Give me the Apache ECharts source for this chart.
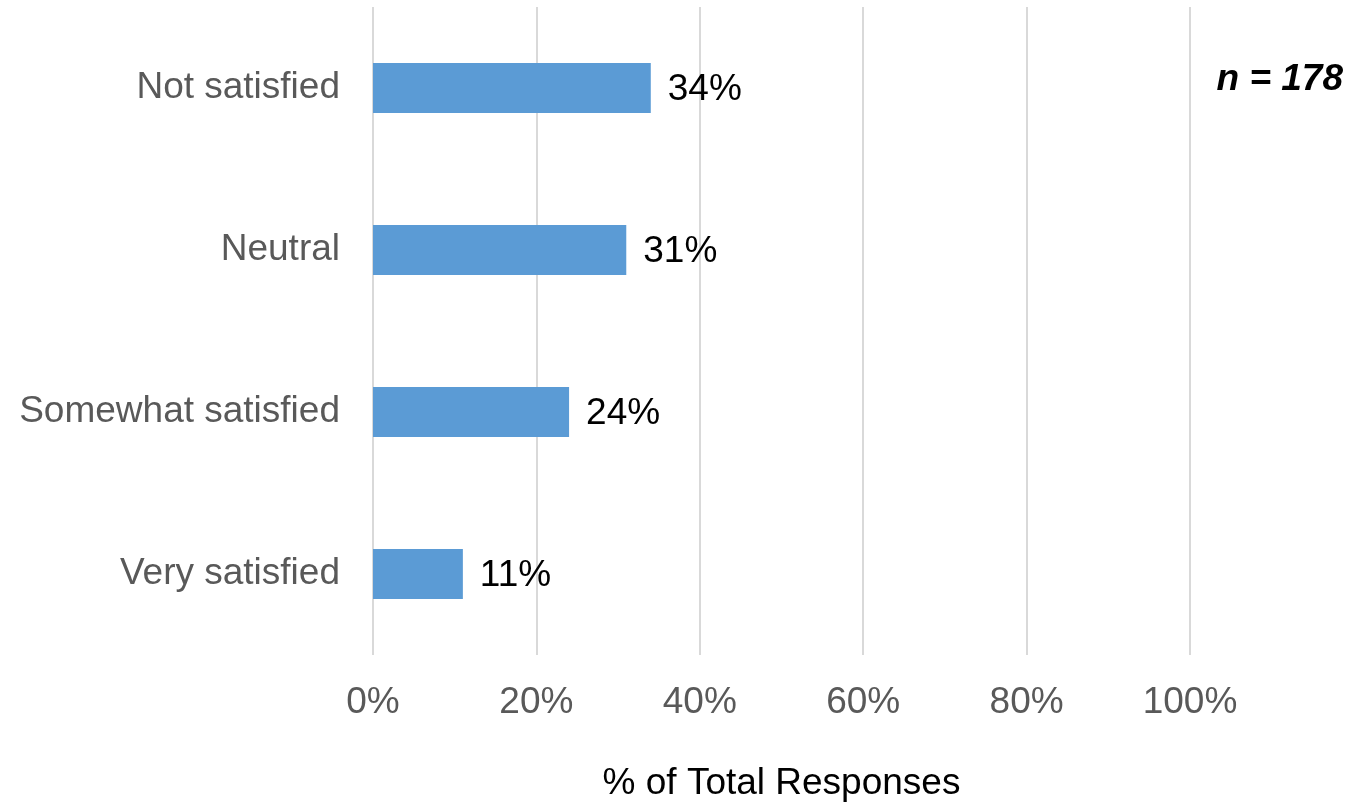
<!DOCTYPE html>
<html>
<head>
<meta charset="utf-8">
<title>Satisfaction</title>
<script src="https://cdn.jsdelivr.net/npm/echarts@6/dist/echarts.min.js"></script>
<style>
  html, body { margin: 0; padding: 0; background: #ffffff; }
  #chart { width: 1354px; height: 802px; }
</style>
</head>
<body>
<div id="chart"></div>
<script>
// Survey categories (top to bottom) and share of responses in percent
const categories = ['Not satisfied', 'Neutral', 'Somewhat satisfied', 'Very satisfied'];
const shares = [34, 31, 24, 11];
const xTicks = [0, 20, 40, 60, 80, 100];
const sampleNote = 'n = 178';

const FONT = '"Liberation Sans", Arial, sans-serif';
const SIZE = 37;

const chart = echarts.init(document.getElementById('chart'), null, { renderer: 'canvas' });

chart.setOption({
  animation: false,
  backgroundColor: '#ffffff',
  title: {
    text: sampleNote,
    right: 11,
    top: 61,
    padding: 0,
    textStyle: {
      fontFamily: FONT,
      fontSize: SIZE,
      fontWeight: 'bold',
      fontStyle: 'italic',
      color: '#000000'
    }
  },
  grid: {
    left: 373,
    right: 164,
    top: 7,
    bottom: 147,
    containLabel: false,
    outerBoundsMode: 'none'
  },
  xAxis: {
    type: 'value',
    min: xTicks[0],
    max: xTicks[xTicks.length - 1],
    interval: xTicks[1] - xTicks[0],
    name: '% of Total Responses',
    nameLocation: 'middle',
    nameGap: 110,
    nameTextStyle: { fontFamily: FONT, fontSize: SIZE, color: '#000000' },
    axisLine: { show: false },
    axisTick: { show: false },
    axisLabel: {
      formatter: '{value}%',
      fontFamily: FONT,
      fontSize: SIZE,
      color: '#595959',
      margin: 29
    },
    splitLine: { show: true, lineStyle: { color: '#d9d9d9', width: 2 } }
  },
  yAxis: {
    type: 'category',
    data: categories,
    inverse: true,
    axisLine: { show: false },
    axisTick: { show: false },
    axisLabel: {
      fontFamily: FONT,
      fontSize: SIZE,
      color: '#595959',
      margin: 33
    },
    splitLine: { show: false }
  },
  series: [{
    type: 'bar',
    data: shares,
    barWidth: 50,
    itemStyle: { color: '#5b9bd5' },
    label: {
      show: true,
      position: 'right',
      distance: 17,
      offset: [0, 2],
      formatter: '{c}%',
      fontFamily: FONT,
      fontSize: SIZE,
      color: '#000000'
    }
  }]
});
</script>
</body>
</html>
